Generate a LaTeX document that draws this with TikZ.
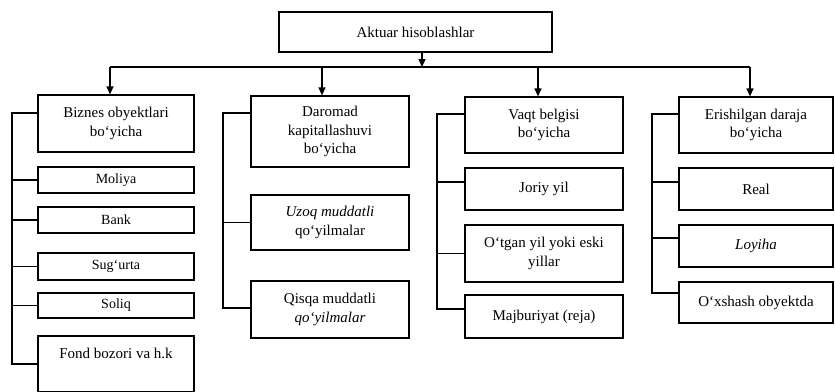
\documentclass[tikz,border=0pt]{standalone}
\usepackage{fontspec}
\setmainfont{Liberation Serif}
\usetikzlibrary{arrows.meta,calc}
\begin{document}
\begin{tikzpicture}[x=1pt,y=-1pt,
  box/.style={draw, line width=1.2pt, inner sep=1pt, align=center, font=\fontsize{15}{18.5}\selectfont},
  txt/.style={inner sep=0pt, align=center, font=\fontsize{15}{18.5}\selectfont},
  small/.style={font=\fontsize{14}{16}\selectfont},
  ln/.style={line width=1.2pt},
  arr/.style={line width=1.2pt, -{Triangle[width=7pt,length=8pt]}}]
\path[use as bounding box, clip] (0,0) rectangle (835,391);

% top
\node[box, minimum width=273pt, minimum height=40pt] (top) at (415.5,32) {Aktuar hisoblashlar};
\coordinate (hm) at (422,67);
\coordinate (hl) at (110,67);
\coordinate (hr) at (750,67);
\coordinate (h2) at (322,67);
\coordinate (h3) at (538,67);
\draw[arr] (top.south -| hm) -- (hm);
\draw[ln] (hl) -- (hr);

% category boxes
\node[box, minimum width=156pt, minimum height=57pt] (biz) at (116,123.5) {Biznes obyektlari\\bo‘yicha};
\node[box, minimum width=158pt, minimum height=71pt] (dar) at (330,131.5) {Daromad\\kapitallashuvi\\bo‘yicha};
\node[box, minimum width=158pt, minimum height=56pt] (vaq) at (544,125) {Vaqt belgisi\\bo‘yicha};
\node[box, minimum width=154pt, minimum height=56pt] (eri) at (756,125) {Erishilgan daraja\\bo‘yicha};

\draw[arr] (hl) -- (hl |- biz.north);
\draw[arr] (h2) -- (h2 |- dar.north);
\draw[arr] (h3) -- (h3 |- vaq.north);
\draw[arr] (hr) -- (hr |- eri.north);

% column 1
\node[box, small, minimum width=156pt, minimum height=26pt] (mol) at (116,180) {Moliya};
\node[box, small, minimum width=156pt, minimum height=26pt] (ban) at (116,220) {Bank};
\node[box, small, minimum width=156pt, minimum height=27pt] (sug) at (116,266.5) {Sug‘urta};
\node[box, small, minimum width=156pt, minimum height=25pt] (sol) at (116,305.5) {Soliq};
\node[box, minimum width=156pt, minimum height=56pt] (fon) at (116,364) {};
\node[txt] (font) at (116,353) {Fond bozori va h.k};

\coordinate (a1) at (12,113);
\coordinate (a2) at (12,364);
\draw[ln] (a1 -| biz.west) -- (a1) -- (a2) -- (fon.west);
\draw[ln] (mol.west) -- (mol.west -| a1);
\draw[ln] (ban.west) -- (ban.west -| a1);
\draw[ln] (sug.west) -- (sug.west -| a1);
\draw[ln] (sol.west) -- (sol.west -| a1);

% column 2
\node[box, minimum width=158pt, minimum height=55pt] (uzo) at (330,222.5) {\textit{Uzoq muddatli}\\qo‘yilmalar};
\node[box, minimum width=158pt, minimum height=57pt] (qis) at (330,309.5) {Qisqa muddatli\\\textit{qo‘yilmalar}};
\coordinate (b1) at (223,113);
\coordinate (b2) at (223,308);
\draw[ln] (b1 -| dar.west) -- (b1) -- (b2) -- (b2 -| qis.west);
\draw[ln] (uzo.west) -- (uzo.west -| b1);

% column 3
\node[box, minimum width=158pt, minimum height=42pt] (jor) at (544,189) {Joriy yil};
\node[box, minimum width=158pt, minimum height=57pt] (otg) at (544,253.5) {O‘tgan yil yoki eski\\yillar};
\node[box, minimum width=158pt, minimum height=43pt] (maj) at (544,316.5) {Majburiyat (reja)};
\coordinate (c1) at (437,114);
\coordinate (c2) at (437,182);
\coordinate (c3) at (437,309);
\draw[ln] (c1 -| vaq.west) -- (c1) -- (c3) -- (c3 -| maj.west);
\draw[ln] (c2) -- (c2 -| jor.west);
\draw[ln] (otg.west) -- (otg.west -| c1);

% column 4
\node[box, minimum width=154pt, minimum height=42pt] (rea) at (756,189) {Real};
\node[box, minimum width=154pt, minimum height=42pt] (loy) at (756,246) {\textit{Loyiha}};
\node[box, minimum width=154pt, minimum height=41pt] (oxs) at (756,302.5) {O‘xshash obyektda};
\coordinate (d1) at (652,114);
\coordinate (d2) at (652,182);
\coordinate (d3) at (652,238);
\coordinate (d4) at (652,293);
\draw[ln] (d1 -| eri.west) -- (d1) -- (d4) -- (d4 -| oxs.west);
\draw[ln] (d2) -- (d2 -| rea.west);
\draw[ln] (d3) -- (d3 -| loy.west);
\end{tikzpicture}
\end{document}
